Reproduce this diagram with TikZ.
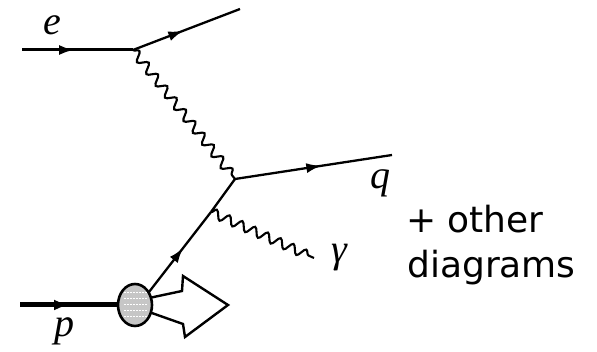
\documentclass[tikz,border=0pt]{standalone}
\usepackage{fontspec}
\newfontfamily\labfont{Liberation Serif}
\newfontfamily\txtfont{DejaVu Sans}
\usetikzlibrary{decorations.pathmorphing,decorations.markings,arrows.meta,shapes.geometric}
\begin{document}
\begin{tikzpicture}[x=1pt,y=-1pt,
  fermion/.style={line width=2.3pt,postaction={decorate},
    decoration={markings,mark=at position #1 with {\arrow{Latex[length=15pt,width=10pt]}}}},
  fermion/.default=0.5,
  photon/.style={line width=2.1pt,decorate,decoration={snake,segment length=#1,amplitude=4.5pt}},
  photon/.default=15pt,
  lab/.style={font=\labfont\itshape\fontsize{40}{42}\selectfont,inner sep=0pt},
  txt/.style={font=\txtfont\fontsize{36}{45}\selectfont,inner sep=0pt,anchor=base west}]
\useasboundingbox (0,0) rectangle (597,352);
% vertices
\coordinate (ein) at (22,50);
\coordinate (A) at (133,50);
\coordinate (eout) at (240,9);
\coordinate (B) at (235,179);
\coordinate (qout) at (392,155);
\coordinate (C) at (211,212);
\coordinate (gend) at (314,258);
\coordinate (pin) at (20,305);
\coordinate (Q0) at (149,292);
% electron lines
\draw[fermion=0.47, line width=3pt] (ein) -- (A);
\draw[fermion=0.47] (A) -- (eout);
% photon exchange
\draw[photon=15pt] (A) -- (B);
% quark lines
\draw[fermion=0.55] (B) -- (qout);
\draw[fermion=0.55] (Q0) -- (C);
\draw[line width=2.3pt] (C) -- (B);
% radiated photon
\draw[photon=14pt] (C) -- (gend);
% proton
\draw[line width=5pt,postaction={decorate},
  decoration={markings,mark=at position 0.5 with {\arrow{Latex[length=15pt,width=11pt]}}}] (pin) -- (118,305);
% remnant arrow
\draw[line width=2.4pt,fill=white,line join=miter] (149,298) -- (182,291) -- (183,276) -- (228,305) -- (185,337) -- (183,324) -- (149,312);
% blob
\node[ellipse, draw, line width=2.6pt, fill=gray!45, minimum width=34pt, minimum height=42pt, inner sep=0pt] (blob) at (135,305) {};
\foreach \yy in {292,298,...,320}{
  \draw[white,line width=0.8pt,dash pattern=on 1.5pt off 1.5pt] (124,\yy) -- (147,\yy);
}
% labels
\node[lab] (le) at (52,25) {e};
\node[lab] (lq) at (380,183) {q};
\node[lab] (lg) at (339,258) {γ};
\node[lab] (lp) at (64,331) {p};
\node[txt] (t1) at (406,233) {+ other};
\node[txt] (t2) at (407,278) {diagrams};
\end{tikzpicture}
\end{document}
